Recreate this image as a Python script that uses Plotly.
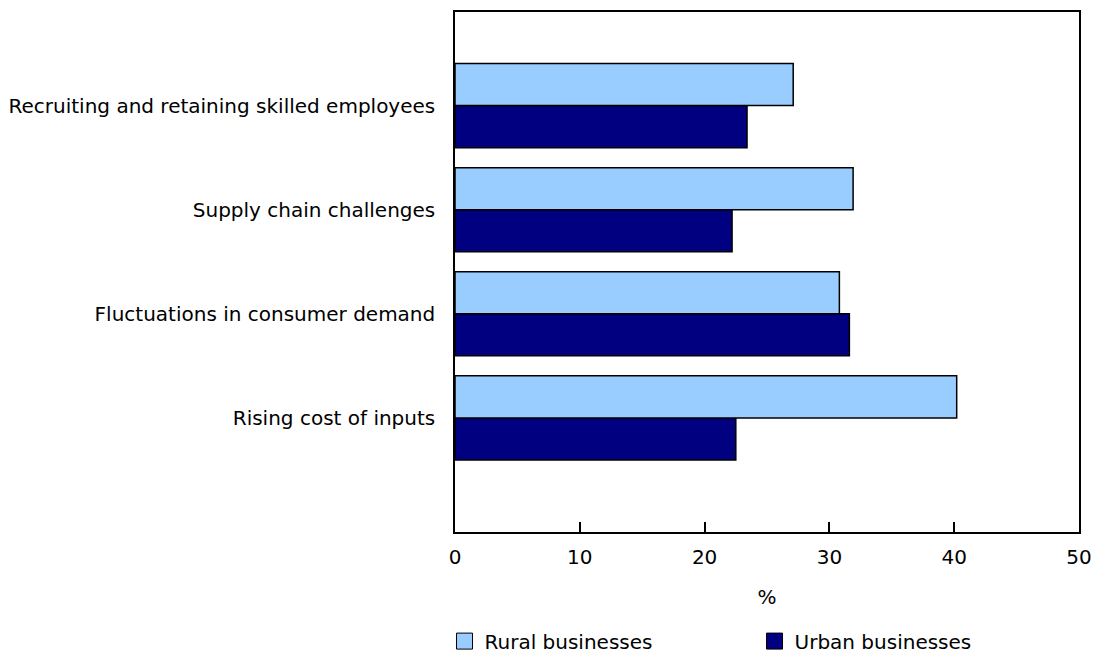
import plotly.graph_objects as go

categories = ["Rising cost of inputs", "Fluctuations in consumer demand",
              "Supply chain challenges", "Recruiting and retaining skilled employees"]
rural = [40.2, 30.8, 31.9, 27.1]
urban = [22.5, 31.6, 22.2, 23.4]
x_ticks = [0, 10, 20, 30, 40, 50]
series_names = ["Rural businesses", "Urban businesses"]
series_colors = ["#99CCFF", "#000080"]

FONT = "DejaVu Sans"
FS = 20

fig = go.Figure()
# urban first so rural sits on top within each group
fig.add_trace(go.Bar(y=categories, x=urban, orientation="h", name=series_names[1],
                     marker=dict(color=series_colors[1], line=dict(color="#000000", width=1.5)),
                     showlegend=False))
fig.add_trace(go.Bar(y=categories, x=rural, orientation="h", name=series_names[0],
                     marker=dict(color=series_colors[0], line=dict(color="#000000", width=1.5)),
                     showlegend=False))
# legend-only swatches
for nm, col in zip(series_names, series_colors):
    fig.add_trace(go.Scatter(x=[None], y=[None], mode="markers", name=nm,
                             marker=dict(symbol="square", size=16, color=col,
                                         line=dict(color="#000000", width=1)),
                             hoverinfo="skip"))

fig.update_layout(
    width=1093, height=653,
    margin=dict(l=455, r=14, t=12, b=121, autoexpand=False),
    paper_bgcolor="white", plot_bgcolor="white",
    barmode="group", bargap=0.192, bargroupgap=0,
    font=dict(family=FONT, size=FS, color="#000000"),
    showlegend=True,
    legend=dict(orientation="h", x=-0.0168, xanchor="left", y=-0.2098, yanchor="middle",
                yref="paper", entrywidth=265, entrywidthmode="pixels",
                font=dict(size=FS), itemwidth=30, bgcolor="rgba(0,0,0,0)"),
    xaxis=dict(range=[0, 50], tickvals=x_ticks, ticks="inside", ticklen=10,
               tickcolor="#000000", tickwidth=1.5, showgrid=False, zeroline=False,
               showline=True, linecolor="#000000", linewidth=1.5, mirror=True,
               ticklabelstandoff=6, tickfont=dict(size=FS),
               title=dict(text="%", font=dict(size=FS), standoff=22)),
    yaxis=dict(range=[-1.096, 3.899], ticks="", showgrid=False, zeroline=False,
               showline=True, linecolor="#000000", linewidth=1.5, mirror=True,
               ticklabelstandoff=14, tickfont=dict(size=FS)),
)

fig.write_html("out.html")
